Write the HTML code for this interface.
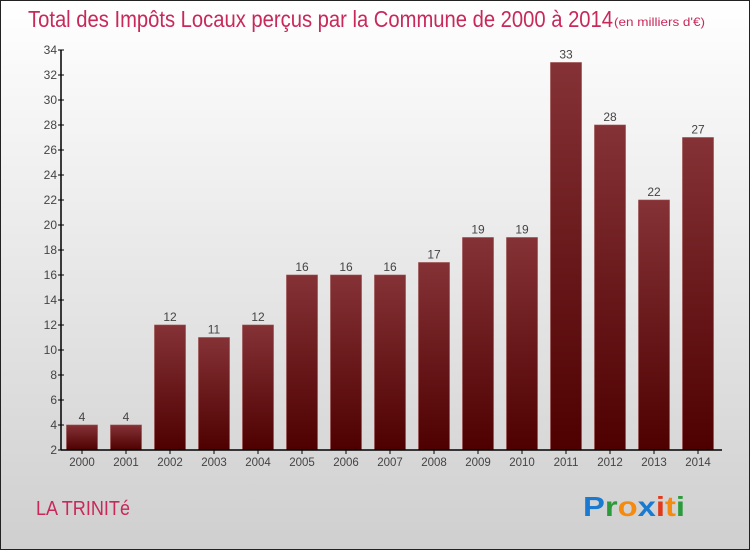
<!DOCTYPE html>
<html><head><meta charset="utf-8"><style>
body{margin:0}
#c{position:relative;width:750px;height:550px;box-sizing:border-box;border:1px solid #222;background:linear-gradient(#fff,#cfcfcf);font-family:"Liberation Sans",sans-serif;overflow:hidden}
</style></head><body>
<div id="c">
<svg id="s" width="750" height="550" style="position:absolute;left:-1px;top:-1px">
<defs><linearGradient id="g" x1="0" y1="0" x2="0" y2="1"><stop offset="0" stop-color="#853236"/><stop offset="1" stop-color="#4e0000"/></linearGradient></defs>
<text x="28" y="27" font-size="23" fill="#c8285a" textLength="585" lengthAdjust="spacingAndGlyphs">Total des Impôts Locaux perçus par la Commune de 2000 à 2014</text>
<text x="614" y="26" font-size="12" fill="#c8285a" textLength="91" lengthAdjust="spacingAndGlyphs">(en milliers d'€)</text>
<text x="36" y="515" font-size="20" fill="#c8285a" textLength="94" lengthAdjust="spacingAndGlyphs">LA TRINITé</text>
<text x="583" y="516" font-size="28" font-weight="bold" textLength="102" lengthAdjust="spacingAndGlyphs"><tspan fill="#1a7ad0">P</tspan><tspan fill="#2a9a3a">r</tspan><tspan fill="#f58a10">o</tspan><tspan fill="#1a7ad0">x</tspan><tspan fill="#e03a1a">i</tspan><tspan fill="#f58a10">t</tspan><tspan fill="#2a9a3a">i</tspan></text>
<g id="plot"></g>
</svg>
</div>
<script>
const years=["2000","2001","2002","2003","2004","2005","2006","2007","2008","2009","2010","2011","2012","2013","2014"];
const values=[4,4,12,11,12,16,16,16,17,19,19,33,28,22,27];
const yTicks=[2,4,6,8,10,12,14,16,18,20,22,24,26,28,30,32,34];
const NS="http://www.w3.org/2000/svg";
const g=document.getElementById('plot');
const y=v=>450-(v-2)*12.5;
const x=i=>82+44*i;
function mk(t,a,txt){const e=document.createElementNS(NS,t);for(const k in a)e.setAttribute(k,a[k]);if(txt!==undefined)e.textContent=txt;g.appendChild(e);return e;}
values.forEach((v,i)=>{
 const r=mk('rect',{x:x(i)-15.5,y:y(v),width:31,height:450-y(v),fill:'url(#g)',stroke:'#9a4a4a','stroke-width':0.6});
 
 
 const t=mk('text',{x:x(i),y:y(v)-4,'font-size':12,fill:'#444','text-anchor':'middle'},String(v));
 
 
 const xl=mk('text',{x:x(i),y:466,'font-size':11.5,fill:'#444','text-anchor':'middle'},years[i]);
 
 
 mk('line',{x1:x(i),x2:x(i),y1:450,y2:454,stroke:'#000'});
});
yTicks.forEach(v=>{
 mk('line',{x1:58,x2:64,y1:y(v),y2:y(v),stroke:'#000'});
 const t=mk('text',{x:57,y:y(v)+4,'font-size':12,fill:'#444','text-anchor':'end'},String(v));
 
 
});
const ya=mk('line',{x1:61,x2:61,y1:y(34),y2:450,stroke:'#000','stroke-width':1.5});


const xa=mk('line',{x1:61,x2:722,y1:450,y2:450,stroke:'#000','stroke-width':1.5});


</script>
</body></html>
